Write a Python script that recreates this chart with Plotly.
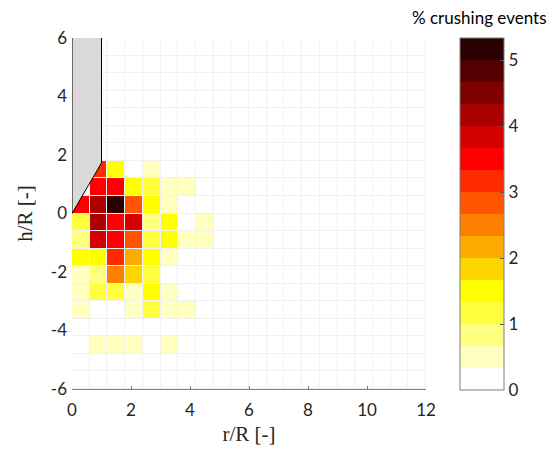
import plotly.graph_objects as go

# Bin layout (0.6 x 0.6 cells)
x_centers = [0.3 + 0.6 * k for k in range(20)]
y_centers = [-5.7 + 0.6 * k for k in range(20)]

# % crushing events per cell, rows keyed by lower y-edge, columns from r/R = 0 to 4.8
row_p1_2 = [0.0, 3.2, 1.5, 0.0, 0.5, 0.0, 0.0, 0.0]
row_p0_6 = [0.0, 3.5, 3.5, 1.5, 1.2, 0.5, 0.5, 0.0]
row_p0_0 = [3.5, 4.2, 5.2, 2.85, 1.5, 0.5, 0.0, 0.0]
row_m0_6 = [1.2, 4.2, 3.5, 3.85, 0.85, 1.5, 0.0, 0.5]
row_m1_2 = [0.85, 3.85, 3.5, 2.85, 1.2, 1.5, 0.5, 0.5]
row_m1_8 = [1.5, 1.5, 3.2, 2.2, 1.5, 0.5, 0.0, 0.0]
row_m2_4 = [0.5, 0.85, 2.5, 1.85, 1.2, 0.0, 0.0, 0.0]
row_m3_0 = [0.5, 1.2, 1.2, 0.5, 1.5, 0.5, 0.0, 0.0]
row_m3_6 = [0.5, 0.0, 0.0, 0.5, 1.2, 0.5, 0.5, 0.0]
row_m4_2 = [0.0, 0.0, 0.0, 0.0, 0.0, 0.0, 0.0, 0.0]
row_m4_8 = [0.0, 0.5, 0.5, 0.5, 0.0, 0.5, 0.0, 0.0]

rows_by_index = {
    12: row_p1_2, 11: row_p0_6, 10: row_p0_0, 9: row_m0_6, 8: row_m1_2,
    7: row_m1_8, 6: row_m2_4, 5: row_m3_0, 4: row_m3_6, 3: row_m4_2, 2: row_m4_8,
}

z = []
for i in range(20):
    r = rows_by_index.get(i, [])
    z.append(list(r) + [0.0] * (20 - len(r)))

# Cone geometry (wall)
cone_x = [0, 0, 1, 1]
cone_y = [6, 0, 1.732, 6]

x_ticks = [0, 2, 4, 6, 8, 10, 12]
y_ticks = [-6, -4, -2, 0, 2, 4, 6]
y_tick_labels = ["-6", "-4", "-2", "0", "2", "4", "6"]
cb_ticks = [0, 1, 2, 3, 4, 5]

band_colors = ['#ffffff', '#ffffbf', '#ffff80', '#ffff40', '#ffff00', '#ffd500',
               '#ffaa00', '#ff8000', '#ff5500', '#ff2b00', '#ff0000', '#d50000',
               '#aa0000', '#800000', '#550000', '#2b0000']
n = len(band_colors)
colorscale = []
for k, c in enumerate(band_colors):
    colorscale.append([k / n, c])
    colorscale.append([(k + 1) / n, c])

zmax = 16 / 3

tick_font = dict(family="Lato", size=17, color="#262626")

fig = go.Figure()
fig.add_trace(go.Heatmap(
    x=x_centers, y=y_centers, z=z,
    zmin=0, zmax=zmax, colorscale=colorscale,
    xgap=1, ygap=1,
    colorbar=dict(
        thickness=44, thicknessmode="pixels",
        len=352, lenmode="pixels",
        x=1.096, xanchor="left", y=1, yanchor="top",
        outlinecolor="#7f7f7f", outlinewidth=1,
        tickvals=cb_ticks, ticks="inside", ticklen=4, tickcolor="#555555",
        tickfont=tick_font, xpad=0, ypad=0,
    ),
    hoverinfo="skip",
))

path = "M {},{} L {},{} L {},{} L {},{}".format(
    cone_x[0], cone_y[0], cone_x[1], cone_y[1], cone_x[2], cone_y[2], cone_x[3], cone_y[3])
fig.add_shape(type="path", path=path, xref="x", yref="y",
              fillcolor="#d9d9d9", line=dict(color="#000000", width=1), layer="above")

fig.add_annotation(text="% crushing events", xref="paper", yref="paper",
                   x=1.15, y=1.058, xanchor="center", yanchor="middle",
                   showarrow=False, font=dict(family="Lato", size=17, color="#000000"))

fig.update_layout(
    width=555, height=453,
    margin=dict(l=72, r=129, t=38, b=62),
    paper_bgcolor="white", plot_bgcolor="#f1f1f1",
    xaxis=dict(range=[0, 12], tickvals=x_ticks, showgrid=False, zeroline=False,
               showline=True, linecolor="#808080", linewidth=1,
               ticks="inside", ticklen=3, tickcolor="#808080",
               tickfont=tick_font, ticklabelstandoff=6,
               title=dict(text="r/R [-]", font=dict(family="Liberation Serif", size=21, color="#262626"), standoff=6)),
    yaxis=dict(range=[-6, 6], tickvals=y_ticks, ticktext=y_tick_labels,
               showgrid=False, zeroline=False,
               showline=False, ticks="", tickfont=tick_font, ticklabelstandoff=4,
               title=dict(text="h/R [-]", font=dict(family="Liberation Serif", size=21, color="#262626"), standoff=12)),
)

fig.write_html("out.html")
